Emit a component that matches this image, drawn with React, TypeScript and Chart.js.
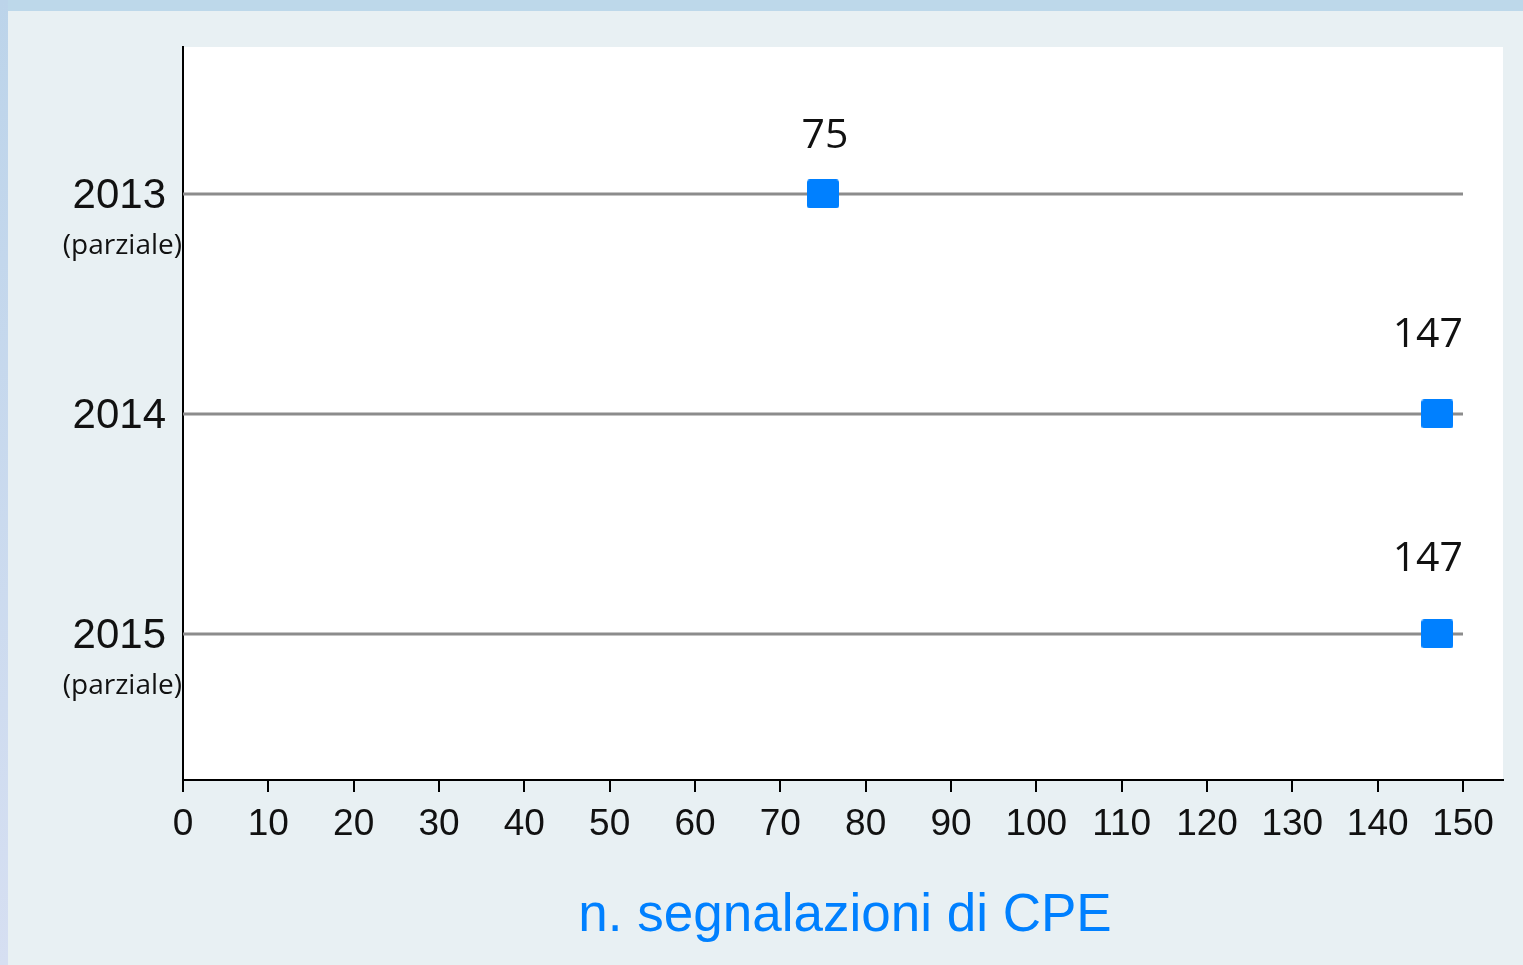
import React, { useEffect, useRef } from 'react';
import { Chart, registerables } from 'chart.js';

Chart.register(...registerables);

// ---- data ----
const categories = ['2013', '2014', '2015'];
const categoryNotes = ['(parziale)', '', '(parziale)'];
const signalCounts = [75, 147, 147];
const xTickStep = 10;
const xGuideEnd = 150;
const xAxisTitle = 'n. segnalazioni di CPE';

const BLUE = '#0080ff';

export default function App() {
  const ref = useRef<HTMLCanvasElement>(null);

  useEffect(() => {
    document.body.style.margin = '0';
    const canvas = ref.current!;

    // rounded square marker
    const marker = document.createElement('canvas');
    marker.width = 32;
    marker.height = 29;
    const mctx = marker.getContext('2d')!;
    mctx.fillStyle = BLUE;
    mctx.beginPath();
    (mctx as any).roundRect(0, 0, 32, 29, 3);
    mctx.fill();

    const labelOffsets = [58, 79, 75];

    const backgroundPlugin = {
      id: 'bgPlugin',
      beforeDraw(chart: any) {
        const { ctx, width, height, chartArea } = chart;
        ctx.save();
        ctx.fillStyle = '#e8f0f3';
        ctx.fillRect(0, 0, width, height);
        ctx.fillStyle = '#bdd8ea';
        ctx.fillRect(0, 0, width, 11);
        const g = ctx.createLinearGradient(0, 0, 0, height);
        g.addColorStop(0, '#bcd4ea');
        g.addColorStop(1, '#d6dff2');
        ctx.fillStyle = g;
        ctx.fillRect(0, 0, 8, height);
        ctx.fillStyle = '#ffffff';
        ctx.fillRect(
          chartArea.left,
          chartArea.top,
          chartArea.right - chartArea.left,
          chartArea.bottom - chartArea.top
        );
        ctx.restore();
      },
    };

    const labelsPlugin = {
      id: 'labelsPlugin',
      afterDraw(chart: any) {
        const { ctx, chartArea } = chart;
        const xs = chart.scales.x;
        const ys = chart.scales.y;
        ctx.save();
        // y category labels
        categories.forEach((c, i) => {
          const y = ys.getPixelForValue(i);
          ctx.fillStyle = '#111';
          ctx.textAlign = 'right';
          ctx.textBaseline = 'middle';
          ctx.font = '42px "Liberation Sans", Arial, sans-serif';
          ctx.fillText(c, 166, y + 2);
          if (categoryNotes[i]) {
            ctx.font = '28px "Open Sans", sans-serif';
            ctx.fillText(categoryNotes[i], 182, y + 52);
          }
        });
        // value labels
        const meta = chart.getDatasetMeta(0);
        ctx.font = '41px "Open Sans", sans-serif';
        ctx.fillStyle = '#111';
        ctx.textAlign = 'center';
        ctx.textBaseline = 'middle';
        const limit = xs.getPixelForValue(xGuideEnd);
        meta.data.forEach((pt: any, i: number) => {
          const txt = String(signalCounts[i]);
          const w = ctx.measureText(txt).width;
          const x = Math.min(pt.x + 2, limit - w / 2);
          ctx.fillText(txt, x, pt.y - labelOffsets[i]);
        });
        // axis title
        ctx.font = '53px "Liberation Sans", Arial, sans-serif';
        ctx.fillStyle = BLUE;
        ctx.textAlign = 'center';
        ctx.textBaseline = 'alphabetic';
        ctx.fillText(xAxisTitle, (chartArea.left + chartArea.right) / 2 + 2, 931);
        ctx.restore();
      },
    };

    const chart = new Chart(canvas, {
      type: 'scatter',
      data: {
        datasets: [
          {
            data: signalCounts.map((v, i) => ({ x: v, y: i })),
            pointStyle: marker as any,
            pointRadius: 16,
            pointHoverRadius: 16,
            showLine: false,
            order: 0,
          },
          ...categories.map((_, i) => ({
            data: [
              { x: 0, y: i },
              { x: xGuideEnd, y: i },
            ],
            showLine: true,
            borderColor: '#8c8c8c',
            borderWidth: 3,
            pointRadius: 0,
            pointHoverRadius: 0,
            order: 1,
          })),
        ],
      },
      options: {
        responsive: false,
        animation: false,
        events: [],
        layout: { padding: { top: 47, right: 20, left: 0, bottom: 0 } },
        plugins: {
          legend: { display: false },
          tooltip: { enabled: false },
        },
        scales: {
          x: {
            type: 'linear',
            min: 0,
            max: 154.6875,
            afterFit: (s: any) => {
              s.height = 185;
            },
            grid: {
              drawOnChartArea: false,
              drawTicks: true,
              tickLength: 12,
              color: '#000',
              lineWidth: 2,
            },
            border: { display: true, color: '#000', width: 2 },
            ticks: {
              stepSize: xTickStep,
              includeBounds: false,
              autoSkip: false,
              maxRotation: 0,
              color: '#111',
              padding: 11,
              font: { family: '"Liberation Sans", Arial, sans-serif', size: 37 },
            },
          },
          y: {
            type: 'linear',
            min: -0.668,
            max: 2.664,
            reverse: true,
            afterFit: (s: any) => {
              s.width = 183;
            },
            grid: { display: false },
            ticks: { display: false },
            border: { display: true, color: '#000', width: 2 },
          },
        },
      } as any,
      plugins: [backgroundPlugin, labelsPlugin],
    });

    return () => chart.destroy();
  }, []);

  return (
    <div style={{ position: 'absolute', left: 0, top: 0, width: 1523, height: 965 }}>
      <canvas ref={ref} width={1523} height={965} style={{ display: 'block' }} />
    </div>
  );
}
